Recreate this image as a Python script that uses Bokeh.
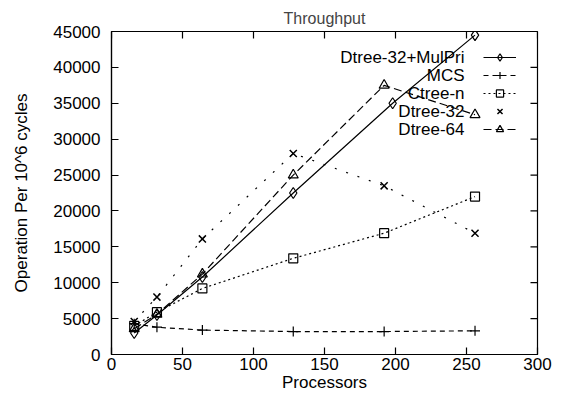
import math
from bokeh.plotting import figure
from bokeh.models import Range1d, FixedTicker, Legend, LegendItem, Label
from bokeh.core.properties import value
from bokeh.embed import file_html
from bokeh.resources import INLINE

# ---- data ----
procs = [16, 32, 64, 128, 192, 256]
mulpri_x = [16, 32, 64, 128, 198, 256]
mulpri = [3000, 5500, 10800, 22500, 35000, 44500]
mcs = [4300, 3800, 3400, 3200, 3200, 3300]
ctree_n = [4000, 5900, 9200, 13400, 16900, 22000]
dtree32 = [4600, 8000, 16100, 28000, 23500, 16900]
dtree64 = [3600, 5600, 11200, 25000, 37500, 33400]
series_names = ["Dtree-32+MulPri", "MCS", "Ctree-n", "Dtree-32", "Dtree-64"]
x_ticks = [0, 50, 100, 150, 200, 250, 300]
y_ticks = [0, 5000, 10000, 15000, 20000, 25000, 30000, 35000, 40000, 45000]

FONT = "Liberation Sans"
W, H = 553, 395
BL, BR, BT, BB = 111, 16, 31, 41
FRAME_H = H - BT - BB

p = figure(width=W, height=H,
           x_range=Range1d(x_ticks[0], x_ticks[-1]),
           y_range=Range1d(y_ticks[0], y_ticks[-1]),
           output_backend="svg", toolbar_location=None,
           title="Throughput",
           min_border_left=BL, min_border_right=BR,
           min_border_top=BT, min_border_bottom=BB)

p.title.align = "center"
p.title.text_font = FONT
p.title.text_font_style = "normal"
p.title.text_font_size = "16px"
p.title.standoff = 10
p.title.offset = 0

p.xgrid.visible = False
p.ygrid.visible = False
p.outline_line_color = "black"
p.outline_line_width = 1.2
p.background_fill_color = "white"
p.border_fill_color = "white"


def style_axis(ax, ticks):
    ax.ticker = FixedTicker(ticks=ticks)
    ax.major_tick_in = 7
    ax.major_tick_out = 0
    ax.minor_tick_in = 0
    ax.minor_tick_out = 0
    ax.axis_line_color = "black"
    ax.axis_line_width = 1.2
    ax.major_tick_line_color = "black"
    ax.major_tick_line_width = 1.2
    ax.major_label_text_font = FONT
    ax.major_label_text_font_size = "17px"
    ax.major_label_text_color = "black"
    ax.axis_label_text_font = FONT
    ax.axis_label_text_font_size = "17px"
    ax.axis_label_text_font_style = "normal"
    ax.axis_label_text_color = "black"


style_axis(p.xaxis[0], x_ticks)
style_axis(p.yaxis[0], y_ticks)
p.xaxis[0].axis_label = "Processors"
p.xaxis[0].major_label_standoff = 3
p.xaxis[0].axis_label_standoff = 0
p.yaxis[0].axis_label = "Operation Per 10^6 cycles"
p.yaxis[0].major_label_standoff = 11
p.yaxis[0].axis_label_standoff = 19

# mirrored (inward) ticks on the top and right edges, drawn from the tick lists
p.ray(x=x_ticks, y=[y_ticks[-1]] * len(x_ticks), length=7, length_units="screen",
      angle=-math.pi / 2, line_color="black", line_width=1.2)
p.ray(x=[x_ticks[-1]] * len(y_ticks), y=y_ticks, length=7, length_units="screen",
      angle=math.pi, line_color="black", line_width=1.2)

LW = 1.2

r1l = p.line(mulpri_x, mulpri, line_color="black", line_width=LW)
r1m = p.scatter(mulpri_x, mulpri, marker="diamond", size=11,
                fill_color=None, line_color="black", line_width=LW)

r2l = p.line(procs, mcs, line_color="black", line_width=LW, line_dash="5 4")
r2m = p.scatter(procs, mcs, marker="cross", size=10,
                fill_color=None, line_color="black", line_width=LW)

r3l = p.line(procs, ctree_n, line_color="black", line_width=LW, line_dash="2 3")
r3m = p.scatter(procs, ctree_n, marker="square", size=9,
                fill_color=None, line_color="black", line_width=LW)

r4l = p.line(procs, dtree32, line_color="black", line_width=LW, line_dash="2 10")
r4m = p.scatter(procs, dtree32, marker="x", size=10,
                fill_color=None, line_color="black", line_width=LW + 0.3)

r5l = p.line(procs, dtree64, line_color="black", line_width=LW, line_dash="8 4")
r5m = p.scatter(procs, dtree64, marker="triangle", size=10,
                fill_color=None, line_color="black", line_width=LW)

# legend samples on the right, names right-aligned to their left (gnuplot style)
ROW = 18
TOP_OFF = 17
items = [
    LegendItem(label=value(""), renderers=[r1l, r1m]),
    LegendItem(label=value(""), renderers=[r2l, r2m]),
    LegendItem(label=value(""), renderers=[r3l, r3m]),
    LegendItem(label=value(""), renderers=[r4m]),
    LegendItem(label=value(""), renderers=[r5l, r5m]),
]
legend = Legend(items=items,
                location=(372, FRAME_H - TOP_OFF - ROW * len(items)),
                glyph_width=33, glyph_height=ROW, label_height=ROW,
                label_width=0, label_standoff=0,
                spacing=0, padding=0, margin=0,
                border_line_color=None, background_fill_alpha=0)
p.add_layout(legend)

for i, name in enumerate(series_names):
    p.add_layout(Label(x=353, y=FRAME_H - TOP_OFF - ROW * i - ROW / 2,
                       x_units="screen", y_units="screen", text=name,
                       text_align="right", text_baseline="middle",
                       text_font=FONT, text_font_size="17px",
                       text_color="black"))

open("out.html", "w").write(file_html(p, INLINE))
